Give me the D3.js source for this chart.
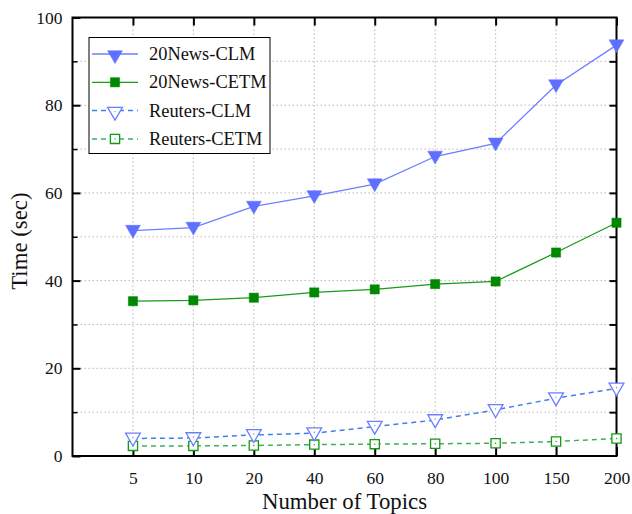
<!doctype html>
<html>
<head>
<meta charset="utf-8">
<script src="https://d3js.org/d3.v7.min.js"></script>
<style>
  body { margin: 0; background: #fff; }
  svg text { font-family: "Liberation Serif", "Times New Roman", serif; fill: #111; }
</style>
</head>
<body>
<svg id="chart" width="632" height="514"></svg>
<script>
var topics = ["5", "10", "20", "40", "60", "80", "100", "150", "200"];
var news20Clm = [51.4, 52.1, 56.9, 59.3, 62.0, 68.3, 71.3, 84.6, 93.7];
var news20Cetm = [35.3, 35.5, 36.1, 37.3, 38.0, 39.2, 39.8, 46.4, 53.2];
var reutersClm = [4.0, 4.1, 4.8, 5.2, 6.7, 8.2, 10.5, 13.2, 15.4];
var reutersCetm = [2.3, 2.3, 2.4, 2.6, 2.7, 2.8, 2.9, 3.3, 4.0];
var yTicks = [0, 20, 40, 60, 80, 100];

var series = [
  { name: "20News-CLM", values: news20Clm, line: "#6b7fff", marker: "#5f6fff", shape: "tri", filled: true, dash: null },
  { name: "20News-CETM", values: news20Cetm, line: "#1a9a1a", marker: "#008800", shape: "sq", filled: true, dash: null },
  { name: "Reuters-CLM", values: reutersClm, line: "#3f7fea", marker: "#6b7fff", shape: "tri", filled: false, dash: "5,4" },
  { name: "Reuters-CETM", values: reutersCetm, line: "#3fae5f", marker: "#119911", shape: "sq", filled: false, dash: "5,4" }
];

var svg = d3.select("#chart");
var pLeft = 72.5, pRight = 616.5, pTop = 17.5, pBottom = 456;

// categories sit at index 1..9, index 0 is the left edge
var x = d3.scaleLinear().domain([0, topics.length]).range([pLeft, pRight]);
var y = d3.scaleLinear().domain([0, 100]).range([pBottom, pTop]);

var grid = svg.append("g");
d3.range(10, 100, 10).forEach(function(v) {
  grid.append("line")
    .attr("x1", pLeft).attr("x2", pRight)
    .attr("y1", y(v)).attr("y2", y(v))
    .attr("stroke", "#b8b8b8").attr("stroke-width", 1)
    .attr("stroke-dasharray", "1.5,2.5");
});
topics.forEach(function(t, i) {
  if (i == topics.length - 1) return;
  grid.append("line")
    .attr("x1", x(i + 1)).attr("x2", x(i + 1))
    .attr("y1", pTop).attr("y2", pBottom)
    .attr("stroke", "#b8b8b8").attr("stroke-width", 1)
    .attr("stroke-dasharray", "1.5,2.5");
});

// axes with inward ticks
var yLeft = d3.axisLeft(y).tickValues(yTicks).tickSizeInner(-8).tickSizeOuter(0).tickPadding(10);
svg.append("g").attr("transform", "translate(" + pLeft + ",0)").call(yLeft)
  .call(function(g) {
    g.select(".domain").remove();
    g.selectAll("line").attr("stroke", "#000").attr("stroke-width", 2);
    g.selectAll("text").style("font-size", "17.5px").attr("fill", "#111");
  });
svg.append("g").attr("transform", "translate(" + pLeft + ",0)")
  .call(d3.axisLeft(y).tickValues(d3.range(10, 100, 20)).tickSizeInner(-5).tickSizeOuter(0).tickFormat(""))
  .call(function(g) {
    g.select(".domain").remove();
    g.selectAll("line").attr("stroke", "#000").attr("stroke-width", 1.5);
  });
svg.append("g").attr("transform", "translate(" + pRight + ",0)")
  .call(d3.axisRight(y).tickValues(d3.range(10, 100, 10)).tickSizeInner(-7).tickSizeOuter(0).tickFormat(""))
  .call(function(g) {
    g.select(".domain").remove();
    g.selectAll("line").attr("stroke", "#000").attr("stroke-width", 2);
  });

var xIdx = d3.range(1, topics.length + 1);
svg.append("g").attr("transform", "translate(0," + pBottom + ")")
  .call(d3.axisBottom(x).tickValues(xIdx).tickSizeInner(-9).tickSizeOuter(0).tickPadding(16)
    .tickFormat(function(d) { return topics[d - 1]; }))
  .call(function(g) {
    g.select(".domain").remove();
    g.selectAll("line").attr("stroke", "#000").attr("stroke-width", 2);
    g.selectAll("text").style("font-size", "17.5px").attr("fill", "#111");
  });
svg.append("g").attr("transform", "translate(0," + pTop + ")")
  .call(d3.axisTop(x).tickValues(xIdx).tickSizeInner(-8).tickSizeOuter(0).tickFormat(""))
  .call(function(g) {
    g.select(".domain").remove();
    g.selectAll("line").attr("stroke", "#000").attr("stroke-width", 2);
  });

// frame
svg.append("rect")
  .attr("x", pLeft).attr("y", pTop)
  .attr("width", pRight - pLeft).attr("height", pBottom - pTop)
  .attr("fill", "none").attr("stroke", "#000").attr("stroke-width", 2);

var tri = d3.symbol().type(d3.symbolTriangle).size(95);
var sq = d3.symbol().type(d3.symbolSquare).size(85);

function marker(g, s, px, py) {
  var m = g.append("path")
    .attr("d", s.shape == "tri" ? tri() : sq())
    .attr("transform", "translate(" + px + "," + py + ")" + (s.shape == "tri" ? " rotate(180)" : ""));
  if (s.filled) {
    m.attr("fill", s.marker).attr("stroke", s.marker).attr("stroke-width", 0.5);
  } else {
    m.attr("fill", "#fff").attr("stroke", s.marker).attr("stroke-width", 1.3);
    g.append("circle").attr("cx", px).attr("cy", py).attr("r", 0.7).attr("fill", s.marker);
  }
}

var line = d3.line()
  .x(function(d, i) { return x(i + 1); })
  .y(function(d) { return y(d); });

series.slice().reverse().forEach(function(s) {
  var g = svg.append("g");
  g.append("path")
    .datum(s.values)
    .attr("d", line)
    .attr("fill", "none")
    .attr("stroke", s.line)
    .attr("stroke-width", s.dash ? 1.5 : 1.3)
    .attr("stroke-dasharray", s.dash);
  s.values.forEach(function(v, i) {
    marker(g, s, x(i + 1), y(v) + (s.shape == "tri" ? -1 : 0));
  });
});

// legend
var lg = svg.append("g");
lg.append("rect")
  .attr("x", 89).attr("y", 37.5).attr("width", 181).attr("height", 116)
  .attr("fill", "#fff").attr("stroke", "#000").attr("stroke-width", 1);
series.forEach(function(s, i) {
  var ly = 54 + i * 28.3;
  lg.append("line")
    .attr("x1", 92).attr("x2", 138).attr("y1", ly).attr("y2", ly)
    .attr("stroke", s.line).attr("stroke-width", s.dash ? 1.5 : 1.3)
    .attr("stroke-dasharray", s.dash);
  marker(lg, s, 115, ly + (s.shape == "tri" ? 1 : 0));
  lg.append("text")
    .attr("x", 149).attr("y", ly + 6)
    .style("font-size", "18.4px")
    .text(s.name);
});

svg.append("text")
  .attr("x", (pLeft + pRight) / 2).attr("y", 509)
  .attr("text-anchor", "middle")
  .style("font-size", "22.8px")
  .text("Number of Topics");
svg.append("text")
  .attr("transform", "translate(27," + y(49) + ") rotate(-90)")
  .attr("text-anchor", "middle")
  .style("font-size", "22.8px")
  .text("Time (sec)");
</script>
</body>
</html>
